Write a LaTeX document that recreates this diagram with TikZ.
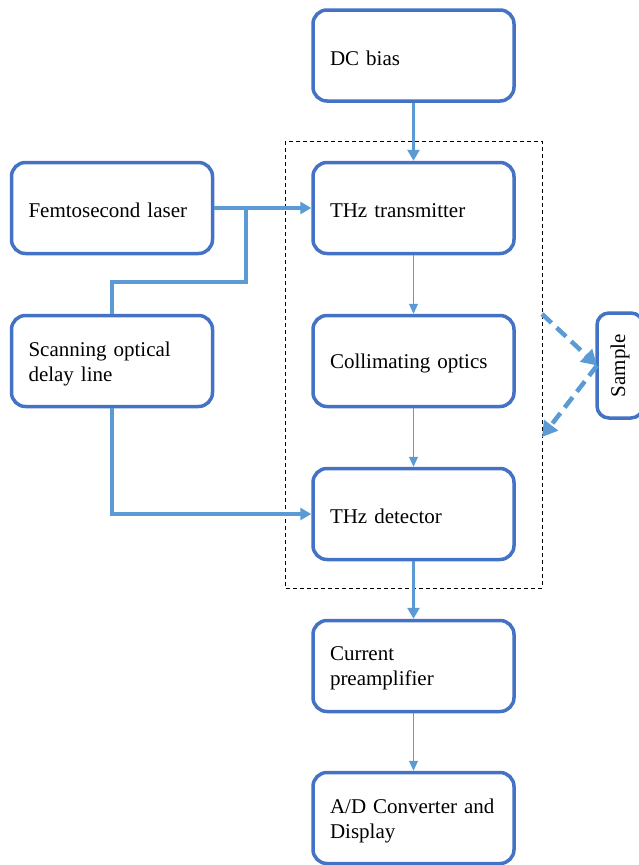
\documentclass[tikz,border=0pt]{standalone}
\usepackage{fontspec}
\setmainfont{Liberation Serif}
\usetikzlibrary{arrows.meta}
\definecolor{boxblue}{HTML}{4472C4}
\definecolor{linkblue}{HTML}{5B9BD5}
\begin{document}
\begin{tikzpicture}[x=1pt,y=-1pt,
  block/.style={draw=boxblue,line width=3.5pt,rounded corners=14pt,
    minimum width=201pt,minimum height=91pt,inner sep=0pt},
  blocktext/.style={text width=167pt,align=left,inner sep=0pt,
    font=\fontsize{21}{25}\selectfont,yshift=-2.5pt},
  thick link/.style={draw=linkblue,line width=3.5pt,-{Triangle[length=11pt,width=12pt]}},
  thin link/.style={draw=linkblue,line width=1pt,-{Triangle[length=10pt,width=9pt]}},
  branch/.style={draw=linkblue,line width=3.5pt},
  beam/.style={draw=linkblue,line width=4.5pt,dash pattern=on 13pt off 7pt,
    -{Triangle[length=15pt,width=17pt]}}]
\useasboundingbox (0,0) rectangle (639,865);
% optical set-up enclosure
\draw[black,line width=1pt,dash pattern=on 4pt off 3pt] (285,141) rectangle (542,588);
% main chain
\node[block] (dc)   at (413.5,55.5)  {};
\node[block] (tx)   at (413.5,208)   {};
\node[block] (col)  at (413.5,361)   {};
\node[block] (det)  at (413.5,514)   {};
\node[block] (amp)  at (413.5,666)   {};
\node[block] (ad)   at (413.5,818)   {};
% laser branch
\node[block] (laser) at (112,208) {};
\node[block] (delay) at (112,361) {};
% box labels
\node[blocktext] (dc-t)    at (dc)    {DC bias};
\node[blocktext] (tx-t)    at (tx)    {THz transmitter};
\node[blocktext] (col-t)   at (col)   {Collimating optics};
\node[blocktext] (det-t)   at (det)   {THz detector};
\node[blocktext] (amp-t)   at (amp)   {Current\\preamplifier};
\node[blocktext] (ad-t)    at (ad)    {A/D Converter and\\Display};
\node[blocktext] (laser-t) at (laser) {Femtosecond laser};
\node[blocktext] (delay-t) at (delay) {Scanning optical\\delay line};
% sample
\node[draw=boxblue,line width=3.5pt,rounded corners=12pt,minimum width=46pt,
  minimum height=105pt,inner sep=0pt] (sample) at (620,365.5) {};
\node[rotate=90,font=\fontsize{21}{25}\selectfont] (samplelabel) at (620,365.5) {Sample};
\coordinate (hit) at (597,365.5);
\coordinate (beamin) at (542,314);
\coordinate (beamout) at (542,437);
\coordinate (split) at (246,208);
\coordinate (turn) at (112,282);
% connectors
\draw[thick link] (dc.south) -- (tx.north);
\draw[thin link] (tx.south) -- (col.north);
\draw[thin link] (col.south) -- (det.north);
\draw[thick link] (det.south) -- (amp.north);
\draw[thin link] (amp.south) -- (ad.north);
\draw[thick link] (laser.east) -- (tx.west);
\draw[branch] (split) |- (turn) -- (delay.north);
\draw[thick link] (delay.south) |- (det.west);
\draw[beam] (beamin) -- (hit);
\draw[beam] (hit) -- (beamout);
\end{tikzpicture}
\end{document}
